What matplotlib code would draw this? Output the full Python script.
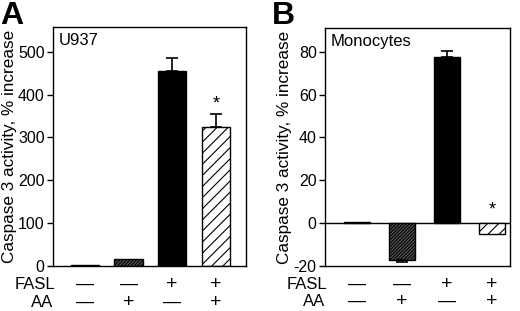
import matplotlib.pyplot as plt
import numpy as np

plt.rcParams['font.family'] = ['Liberation Sans', 'DejaVu Sans']
plt.rcParams['hatch.linewidth'] = 0.8

fasl_signs = ['\u2014', '\u2014', '+', '+']
aa_signs = ['\u2014', '+', '\u2014', '+']

u937_vals = [2.5, 15, 455, 325]
u937_err = [0, 0, 30, 30]
mono_vals = [0.5, -17.3, 77.5, -5.3]
mono_err = [0, 1.0, 2.8, 0]

colors = ['white', '#555555', 'black', 'white']
hatches = ['', '//////////', '', '///']

bar_line = 1.0


def sign_size(s):
    return 13 if s == '\u2014' else 14


def draw_panel(ax, vals, errs, width, ylim, yticks, title, star_y, letter, letter_x):
    x = np.arange(len(vals))
    for i in range(len(vals)):
        ax.bar(x[i], vals[i], width=width, color=colors[i], hatch=hatches[i],
               edgecolor='black', linewidth=bar_line, zorder=2)
        if errs[i] > 0:
            if vals[i] >= 0:
                yerr = [[0], [errs[i]]]
            else:
                yerr = [[errs[i]], [0]]
            ax.errorbar(x[i], vals[i], yerr=yerr, fmt='none', ecolor='black',
                        elinewidth=1.2, capsize=4, capthick=1.2, zorder=3)
    ax.text(3, star_y, '*', ha='center', va='center', fontsize=13)
    ax.set_ylim(ylim)
    ax.set_yticks(yticks)
    ax.set_yticklabels([str(t) for t in yticks])
    ax.set_xticks([])
    ax.tick_params(axis='y', direction='out', length=4, width=1, labelsize=11.5, pad=2)
    for s in ax.spines.values():
        s.set_linewidth(1.0)
    ax.set_ylabel('Caspase 3 activity, % increase', fontsize=12.3, labelpad=1)
    ax.text(0.03, 0.975, title, transform=ax.transAxes, ha='left', va='top', fontsize=12)
    trans = ax.get_xaxis_transform()
    for i in range(len(vals)):
        ax.text(x[i], -0.078, fasl_signs[i], transform=trans, ha='center', va='center',
                fontsize=sign_size(fasl_signs[i]))
        ax.text(x[i], -0.152, aa_signs[i], transform=trans, ha='center', va='center',
                fontsize=sign_size(aa_signs[i]))
    ax.text(0.01, -0.078, 'FASL', transform=ax.transAxes, ha='right', va='center', fontsize=12)
    ax.text(0.0, -0.152, 'AA', transform=ax.transAxes, ha='right', va='center', fontsize=12)
    ax.figure.text(letter_x, 0.95, letter, fontsize=23, fontweight='bold', ha='left', va='center')


fig = plt.figure(figsize=(5.2, 3.11), dpi=100)
axA = fig.add_axes([0.102, 0.145, 0.371, 0.768])
axB = fig.add_axes([0.625, 0.146, 0.356, 0.763])

draw_panel(axA, u937_vals, u937_err, 0.65, (0, 558), [0, 100, 200, 300, 400, 500],
           'U937', 378, 'A', 0.0)
axA.set_xlim(-0.73, 3.69)

draw_panel(axB, mono_vals, mono_err, 0.56, (-20, 91), [-20, 0, 20, 40, 60, 80],
           'Monocytes', 6.2, 'B', 0.523)
axB.set_xlim(-0.71, 3.4)
axB.axhline(0, color='black', linewidth=1.0, zorder=1)

plt.savefig('out.png', dpi=100)
